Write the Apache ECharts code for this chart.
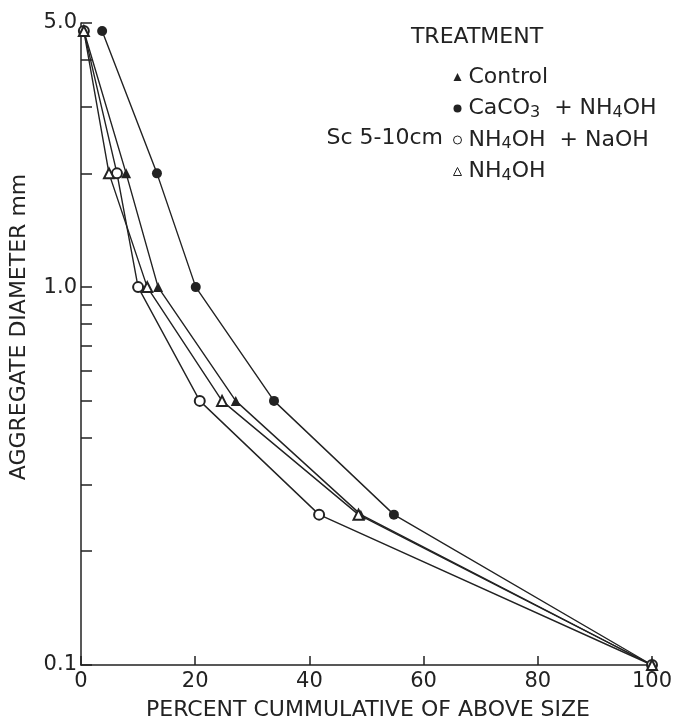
<!DOCTYPE html>
<html><head><meta charset="utf-8">
<script src="https://cdn.jsdelivr.net/npm/echarts@6/dist/echarts.min.js"></script>
<style>html,body{margin:0;padding:0;background:#fff}#c{width:676px;height:721px}</style>
</head><body><div id="c"></div>
<script>
// Aggregate diameter (mm) for each point, top to bottom
const sizes = [4.76, 2.0, 1.0, 0.5, 0.25, 0.1];
// Percent cumulative of above size for each treatment
const control = [0.5, 7.9, 13.5, 27.1, 49.0, 100];
const caco3Nh4oh = [3.7, 13.3, 20.1, 33.8, 54.8, 100];
const nh4ohNaoh = [0.5, 6.3, 10.0, 20.8, 41.7, 100];
const nh4oh = [0.5, 4.9, 11.6, 24.7, 48.6, 100];
// Axis ticks and labels
const xTickValues = [0, 20, 40, 60, 80, 100];
const yTickValues = [0.1, 0.2, 0.3, 0.4, 0.5, 0.6, 0.7, 0.8, 0.9, 1, 2, 3, 4, 5];
const yLabelValues = [0.1, 1, 5];
const seriesNames = ['Control', 'CaCO3 + NH4OH', 'NH4OH + NaOH', 'NH4OH'];
const legendRich = {
  'Control': 'Control',
  'CaCO3 + NH4OH': 'CaCO{s|3}  + NH{s|4}OH',
  'NH4OH + NaOH': 'NH{s|4}OH  + NaOH',
  'NH4OH': 'NH{s|4}OH'
};

const FONT = 'DejaVu Sans';
const INK = '#222';

function pairs(xs) { return xs.map((x, i) => [x, sizes[i]]); }

const symbols = ['triangle', 'circle', 'emptyCircle', 'emptyTriangle'];
const datasets = [control, caco3Nh4oh, nh4ohNaoh, nh4oh];

const chart = echarts.init(document.getElementById('c'), null, {renderer: 'canvas'});
chart.setOption({
  backgroundColor: '#fff',
  animation: false,
  textStyle: {fontFamily: FONT, color: INK},
  grid: {left: 81, right: 24, top: 23, bottom: 56, containLabel: false},
  xAxis: {
    type: 'value', min: 0, max: 100, interval: 20,
    axisLine: {lineStyle: {color: INK, width: 1.5}},
    axisTick: {inside: true, length: 9, lineStyle: {color: INK, width: 1.5}},
    axisLabel: {color: INK, fontSize: 21, fontFamily: FONT, margin: 6, showMinLabel: true, showMaxLabel: true},
    splitLine: {show: false}
  },
  yAxis: {
    type: 'log', logBase: 10, min: 0.1, max: 5,
    axisLine: {show: true, lineStyle: {color: INK, width: 1.5}},
    axisTick: {show: true, inside: true, length: 11, customValues: yTickValues, lineStyle: {color: INK, width: 1.5}},
    axisLabel: {color: INK, fontSize: 21, fontFamily: FONT, margin: 4, customValues: yLabelValues,
      formatter: v => Number(v).toFixed(1)},
    splitLine: {show: false}
  },
  legend: {
    orient: 'vertical', left: 448, top: 60,
    itemWidth: 8, itemHeight: 8, itemGap: 7.5,
    selectedMode: false,
    data: seriesNames.map((n, i) => ({
      name: n,
      icon: symbols[i].replace('empty', '').toLowerCase(),
      itemStyle: symbols[i].startsWith('empty') ? {color: '#fff', borderColor: INK, borderWidth: 1} : {color: INK, borderWidth: 0}
    })),
    formatter: n => legendRich[n],
    textStyle: {
      fontFamily: FONT, fontSize: 22, color: INK, lineHeight: 24, padding: [0, 0, 0, 2],
      rich: {s: {fontFamily: FONT, fontSize: 16, color: INK, lineHeight: 24, verticalAlign: 'bottom', padding: [0, 0, 0, 0]}}
    }
  },
  graphic: [
    {type: 'text', x: 477, y: 37, style: {text: 'TREATMENT', fontFamily: FONT, fontSize: 22, fill: INK, align: 'center', verticalAlign: 'middle'}},
    {type: 'text', x: 443, y: 138, style: {text: 'Sc 5-10cm', fontFamily: FONT, fontSize: 22, fill: INK, align: 'right', verticalAlign: 'middle'}},
    {type: 'text', x: 368, y: 710, style: {text: 'PERCENT CUMMULATIVE OF ABOVE SIZE', fontFamily: FONT, fontSize: 22, fill: INK, align: 'center', verticalAlign: 'middle'}},
    {type: 'text', x: 19, y: 327, rotation: Math.PI / 2, style: {text: 'AGGREGATE DIAMETER mm', fontFamily: FONT, fontSize: 22, fill: INK, align: 'center', verticalAlign: 'middle'}}
  ],
  series: datasets.map((d, i) => ({
    name: seriesNames[i], type: 'line', data: pairs(d),
    symbol: symbols[i], symbolSize: 10, showAllSymbol: true,
    lineStyle: {color: INK, width: 1.4},
    itemStyle: {color: INK, borderColor: INK, borderWidth: symbols[i].startsWith('empty') ? 1.2 : 0},
    emphasis: {disabled: true}
  }))
});
</script>
</body></html>
